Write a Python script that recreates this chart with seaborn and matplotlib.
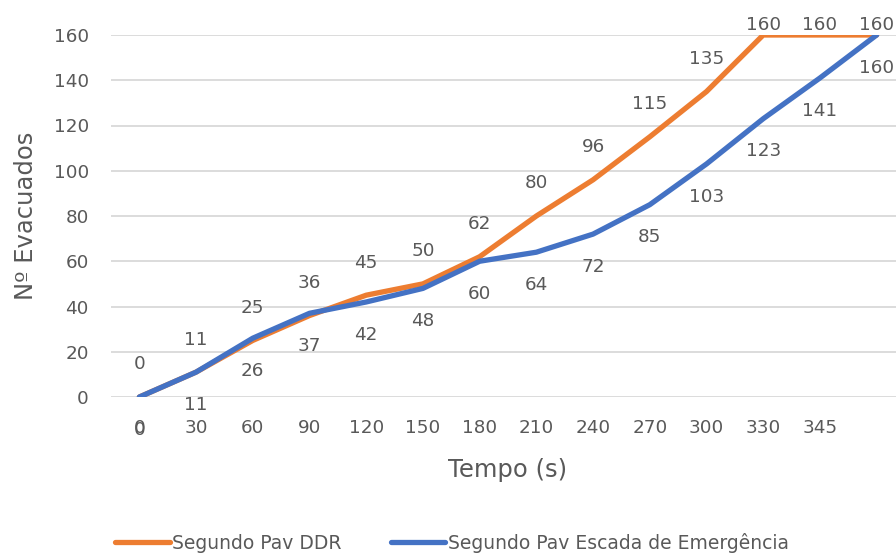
import matplotlib
matplotlib.use("Agg")
import matplotlib.pyplot as plt
import seaborn as sns
import pandas as pd

# Time categories (s); the final category has no printed label
tempo_labels = ["0", "30", "60", "90", "120", "150", "180", "210",
                "240", "270", "300", "330", "345", ""]
ddr = [0, 11, 25, 36, 45, 50, 62, 80, 96, 115, 135, 160, 160, 160]
escada = [0, 11, 26, 37, 42, 48, 60, 64, 72, 85, 103, 123, 141, 160]

serie_ddr = "Segundo Pav DDR"
serie_esc = "Segundo Pav Escada de Emergência"

idx = list(range(len(tempo_labels)))
df = pd.DataFrame({
    "pos": idx * 2,
    "evacuados": ddr + escada,
    "serie": [serie_ddr] * len(idx) + [serie_esc] * len(idx),
})

sns.set_theme(style="white")
plt.rcParams["font.family"] = ["DejaVu Sans"]

gray = "#595959"
colors = {serie_ddr: "#ED7D31", serie_esc: "#4472C4"}
fs = 13.2

fig = plt.figure(figsize=(8.96, 5.54), dpi=100)
ax = fig.add_axes([111 / 896, 1 - 397 / 554, 794 / 896, 362 / 554])

sns.lineplot(data=df, x="pos", y="evacuados", hue="serie", palette=colors,
             linewidth=3.8, ax=ax, legend=False, sort=False,
             solid_capstyle="round")

ax.set_xlim(-0.5, len(idx) - 0.5)
ax.set_ylim(0, 160)
ax.set_yticks(range(0, 161, 20))
ax.set_xticks(idx)
ax.set_xticklabels(tempo_labels)
ax.tick_params(axis="x", length=0, pad=16, labelsize=fs, colors=gray)
ax.tick_params(axis="y", length=0, pad=16, labelsize=fs, colors=gray)
ax.grid(axis="y", color="#D9D9D9", linewidth=1.3)
ax.set_axisbelow(True)
for s in ax.spines.values():
    s.set_visible(False)

ax.set_xlabel("Tempo (s)", fontsize=17.5, color=gray, labelpad=15)
ax.set_ylabel("Nº Evacuados", fontsize=17.5, color=gray, labelpad=11)

# value labels: above the orange line, below the blue line
off = 14.4
for i, v in zip(idx, ddr):
    y = min(v + off, 164.5)
    ax.text(i, y, str(v), ha="center", va="center", fontsize=fs,
            color=gray, clip_on=False)
for i, v in zip(idx, escada):
    ax.text(i, v - off, str(v), ha="center", va="center", fontsize=fs,
            color=gray, clip_on=False)

handles = [plt.Line2D([], [], color=colors[serie_ddr], linewidth=3.8,
                      solid_capstyle="round"),
           plt.Line2D([], [], color=colors[serie_esc], linewidth=3.8,
                      solid_capstyle="round")]
leg = fig.legend(handles, [serie_ddr, serie_esc], loc="center",
                 bbox_to_anchor=(452 / 896, 1 - 543 / 554), ncol=2,
                 frameon=False, fontsize=13.5, handlelength=2.9,
                 handletextpad=0.15, columnspacing=2.6)
for t in leg.get_texts():
    t.set_color(gray)

fig.savefig("out.png", dpi=100)
